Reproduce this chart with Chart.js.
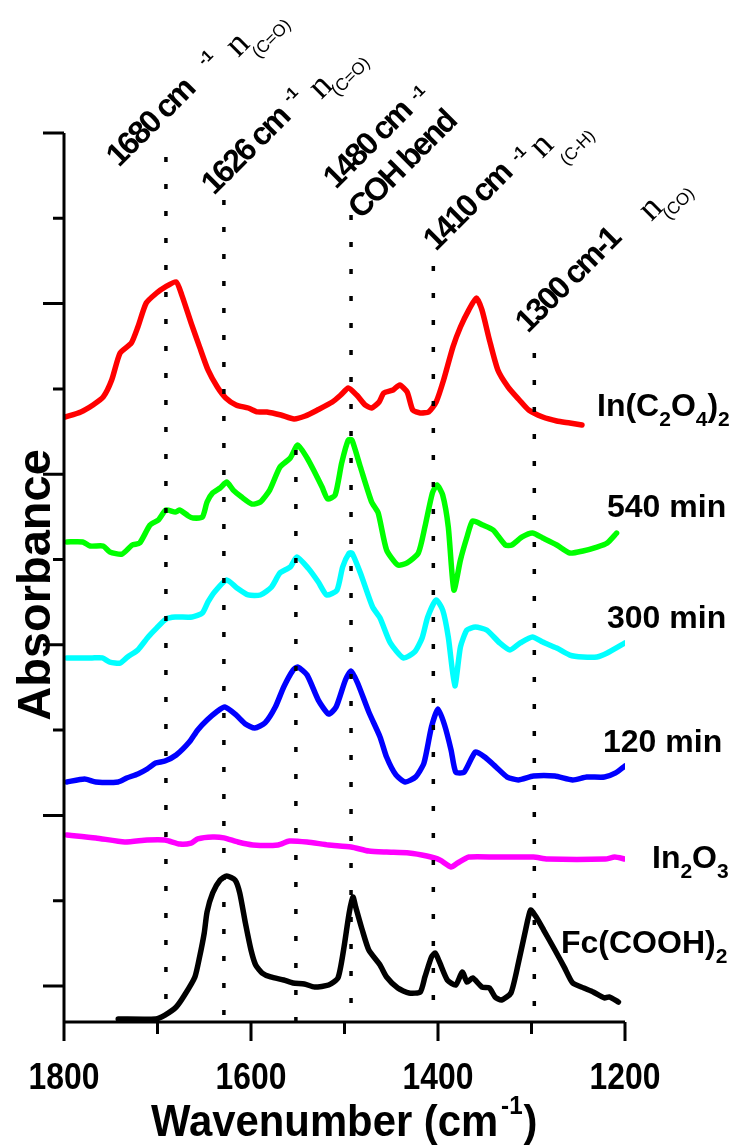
<!DOCTYPE html>
<html>
<head>
<meta charset="utf-8">
<script src="https://cdn.jsdelivr.net/npm/chart.js@4.4.0/dist/chart.umd.min.js"></script>
<style>
  html, body { margin: 0; padding: 0; background: #ffffff; }
  #wrap { width: 735px; height: 1145px; position: relative; }
</style>
</head>
<body>
<div id="wrap"><canvas id="ir" width="735" height="1145"></canvas></div>
<script>
// FTIR spectra, stacked with vertical offsets (absorbance, arbitrary units)
const redWn = [1799,1782,1769,1758,1749,1740,1728,1721,1712,1701,1692,1680,1674,1664,1655,1646,1636,1627,1616,1603,1593,1583,1568,1554,1542,1529,1513,1504,1496,1487,1478,1471,1463,1458,1448,1441,1433,1427,1419,1410,1402,1394,1384,1376,1367,1359,1353,1345,1336,1325,1313,1303,1288,1273,1259,1246];
const redAbs = [3.335,3.365,3.406,3.453,3.552,3.710,3.769,3.863,4.004,4.062,4.097,4.127,4.050,3.886,3.746,3.611,3.511,3.447,3.406,3.388,3.365,3.365,3.347,3.324,3.341,3.376,3.423,3.464,3.505,3.464,3.406,3.388,3.423,3.476,3.494,3.523,3.482,3.376,3.359,3.365,3.423,3.552,3.746,3.863,3.963,4.033,3.963,3.787,3.611,3.511,3.435,3.376,3.335,3.312,3.300,3.288];

const greenWn = [1797,1780,1772,1758,1751,1738,1727,1719,1708,1699,1691,1681,1676,1667,1662,1652,1647,1641,1633,1626,1619,1610,1599,1590,1580,1569,1558,1550,1540,1532,1524,1518,1510,1503,1496,1492,1483,1471,1464,1455,1443,1433,1421,1414,1406,1401,1395,1389,1383,1376,1369,1363,1352,1341,1328,1321,1310,1299,1288,1273,1259,1245,1230,1219,1209];
const greenAbs = [2.603,2.603,2.579,2.579,2.544,2.532,2.585,2.597,2.702,2.732,2.790,2.778,2.790,2.755,2.743,2.749,2.837,2.890,2.919,2.954,2.907,2.866,2.825,2.837,2.907,3.042,3.095,3.171,3.095,3.013,2.925,2.855,2.878,3.066,3.200,3.200,3.042,2.837,2.773,2.556,2.468,2.480,2.538,2.691,2.890,2.937,2.878,2.691,2.321,2.497,2.632,2.726,2.702,2.673,2.585,2.585,2.632,2.655,2.626,2.585,2.538,2.550,2.573,2.597,2.655];

const cyanWn = [1797,1783,1770,1759,1751,1740,1732,1721,1710,1701,1691,1681,1663,1652,1646,1639,1626,1615,1603,1590,1578,1569,1558,1551,1539,1528,1519,1508,1502,1495,1492,1483,1470,1462,1451,1437,1425,1417,1411,1402,1395,1389,1382,1376,1369,1360,1348,1334,1323,1312,1299,1288,1273,1259,1245,1230,1219,1200];
const cyanAbs = [1.923,1.923,1.923,1.923,1.899,1.893,1.929,1.970,2.046,2.098,2.151,2.163,2.163,2.186,2.251,2.310,2.380,2.333,2.292,2.292,2.339,2.421,2.456,2.515,2.450,2.368,2.292,2.321,2.456,2.538,2.538,2.421,2.222,2.157,2.011,1.923,1.958,2.040,2.163,2.263,2.204,2.046,1.759,1.987,2.087,2.104,2.087,2.011,1.970,2.011,2.046,2.016,1.981,1.940,1.929,1.929,1.952,2.011];

const blueWn = [1797,1778,1766,1742,1733,1721,1711,1702,1692,1680,1666,1657,1647,1637,1628,1616,1606,1596,1585,1574,1565,1555,1550,1540,1528,1517,1509,1499,1493,1486,1474,1462,1455,1445,1435,1424,1415,1407,1400,1393,1386,1381,1372,1360,1350,1338,1326,1314,1298,1275,1256,1241,1222,1210,1200];
const blueAbs = [1.196,1.213,1.196,1.196,1.219,1.243,1.272,1.307,1.319,1.354,1.430,1.501,1.559,1.606,1.635,1.589,1.536,1.512,1.542,1.635,1.753,1.852,1.870,1.823,1.676,1.594,1.635,1.794,1.846,1.776,1.606,1.460,1.342,1.237,1.196,1.225,1.307,1.518,1.624,1.530,1.383,1.254,1.254,1.372,1.342,1.284,1.225,1.208,1.231,1.231,1.208,1.225,1.225,1.249,1.290];

const magentaWn = [1797,1766,1735,1711,1692,1676,1664,1657,1641,1629,1614,1598,1571,1559,1540,1517,1493,1474,1455,1431,1412,1398,1386,1379,1367,1338,1298,1283,1221,1211,1200];
const magentaAbs = [0.885,0.868,0.844,0.856,0.856,0.832,0.838,0.862,0.873,0.868,0.844,0.827,0.827,0.850,0.844,0.827,0.815,0.791,0.785,0.780,0.762,0.739,0.698,0.721,0.756,0.756,0.756,0.744,0.744,0.756,0.744];

const blackWn = [1742,1702,1692,1680,1671,1660,1655,1650,1647,1641,1633,1626,1617,1612,1606,1600,1595,1588,1579,1565,1555,1543,1532,1517,1507,1501,1495,1491,1488,1481,1474,1462,1455,1443,1431,1419,1414,1407,1403,1398,1390,1381,1374,1369,1363,1353,1345,1339,1332,1322,1314,1307,1301,1295,1287,1275,1265,1256,1244,1234,1222,1217,1207];
const blackAbs = [-0.193,-0.193,-0.170,-0.123,-0.053,0.053,0.170,0.311,0.434,0.545,0.621,0.645,0.621,0.545,0.369,0.211,0.123,0.076,0.053,0.035,0.018,0.012,-0.006,0.006,0.047,0.211,0.428,0.522,0.463,0.328,0.211,0.123,0.053,-0.012,-0.041,-0.035,0.053,0.170,0.193,0.135,0.035,0.006,0.082,0.023,0.047,-0.006,-0.012,-0.064,-0.082,-0.041,0.135,0.311,0.445,0.404,0.328,0.211,0.111,0.018,-0.012,-0.035,-0.070,-0.064,-0.094];

// band markers: wavenumber and upper end of each dotted guide
const bandWn = [1691, 1629, 1552, 1493, 1405, 1297];
const bandTop = [4.859, 4.607, 3.142, 4.519, 4.220, 3.710];

// axis range and ticks
const wnMax = 1800, wnMin = 1200;
const absMin = -0.211, absMax = 5;
const xMajor = [1800, 1600, 1400, 1200];
const xMinor = [1700, 1500, 1300];
const yMajor = [0, 1, 2, 3, 4, 5];
const yMinor = [0.5, 1.5, 2.5, 3.5, 4.5];

const SANS = '"Liberation Sans", Arial, Helvetica, sans-serif';
const SERIF = '"Liberation Serif", "Times New Roman", serif';

function pts(wn, ab) { return wn.map((w, i) => ({ x: w, y: ab[i] })); }

const spectra = [
  { wn: redWn, ab: redAbs, color: '#ff0000' },
  { wn: greenWn, ab: greenAbs, color: '#00ff00' },
  { wn: cyanWn, ab: cyanAbs, color: '#00ffff' },
  { wn: blueWn, ab: blueAbs, color: '#0000ff' },
  { wn: magentaWn, ab: magentaAbs, color: '#ff00ff' },
  { wn: blackWn, ab: blackAbs, color: '#000000' }
];

const datasets = [];
bandWn.forEach((w, i) => {
  datasets.push({
    data: [{ x: w, y: bandTop[i] }, { x: w, y: absMin }],
    borderColor: '#000000', borderWidth: 3.5, borderDash: [5, 22],
    borderCapStyle: 'butt', tension: 0, order: 0
  });
});
spectra.forEach(s => {
  datasets.push({
    data: pts(s.wn, s.ab),
    borderColor: s.color, borderWidth: 5.5, tension: 0.2,
    borderJoinStyle: 'round', borderCapStyle: 'round', order: 1
  });
});

// draws a row of text pieces (sub/superscripts) starting at x,y; sx narrows the glyphs
function drawRuns(ctx, x, y, parts, angle, sx) {
  ctx.save();
  ctx.translate(x, y);
  ctx.rotate(angle || 0);
  ctx.scale(sx || 1, 1);
  ctx.textAlign = 'left';
  ctx.textBaseline = 'alphabetic';
  let cx = 0;
  for (const p of parts) {
    ctx.font = p.font;
    ctx.letterSpacing = (p.ls || 0) + 'px';
    cx += (p.dx || 0);
    ctx.fillText(p.t, cx, p.dy || 0);
    cx += ctx.measureText(p.t).width;
  }
  ctx.restore();
}

function drawCentered(ctx, t, x, y, font, angle) {
  ctx.save();
  ctx.translate(x, y);
  ctx.rotate(angle);
  ctx.font = font;
  ctx.letterSpacing = '0px';
  ctx.textAlign = 'center';
  ctx.textBaseline = 'middle';
  ctx.fillText(t, 0, 0);
  ctx.restore();
}

const B32 = `bold 32px ${SANS}`;
const S21 = `bold 21px ${SANS}`;
const seriesLabels = [
  { x: 597, y: 416, parts: [{ t: 'In(C', font: B32 }, { t: '2', font: S21, dy: 10 }, { t: 'O', font: B32 }, { t: '4', font: S21, dy: 10 }, { t: ')', font: B32 }, { t: '2', font: S21, dy: 10 }] },
  { x: 607, y: 517, parts: [{ t: '540 min', font: B32 }] },
  { x: 607, y: 628, parts: [{ t: '300 min', font: B32 }] },
  { x: 603, y: 752, parts: [{ t: '120 min', font: B32 }] },
  { x: 652, y: 868, parts: [{ t: 'In', font: B32 }, { t: '2', font: S21, dy: 10 }, { t: 'O', font: B32 }, { t: '3', font: S21, dy: 10 }] },
  { x: 561, y: 953, parts: [{ t: 'Fc(COOH)', font: B32 }, { t: '2', font: S21, dy: 10 }] }
];

const ANG = -Math.PI / 4;
const NOTE = `bold 32px ${SANS}`;
const SUP = `bold 16px ${SANS}`;
const NU = `36px ${SERIF}`;
const GRP = `17px ${SANS}`;
const bandNotes = [
  { main: '1680 cm', at: [119, 168], sup: [206, 58], nu: [238, 45], grp: '(C=O)', g: [272, 39] },
  { main: '1626 cm', at: [214, 196], sup: [291, 95], nu: [321, 87], grp: '(C=O)', g: [351, 77] },
  { main: '1480 cm', at: [336, 190], sup: [418, 93] },
  { main: 'COH bend', at: [361, 220] },
  { main: '1410 cm', at: [436, 252], sup: [519, 154], nu: [542, 146], grp: '(C-H)', g: [578, 148] },
  { main: '1300 cm-1', at: [528, 334], nu: [651, 209], grp: '(CO)', g: [679, 204] }
];

const frame = {
  id: 'frame',
  afterDatasetsDraw(chart) {
    const ctx = chart.ctx;
    const xs = chart.scales.x, ys = chart.scales.y;
    const left = xs.getPixelForValue(wnMax), right = xs.getPixelForValue(wnMin);
    const top = ys.getPixelForValue(absMax), bottom = ys.getPixelForValue(absMin);
    ctx.save();
    ctx.strokeStyle = '#000'; ctx.fillStyle = '#000';
    ctx.lineWidth = 3; ctx.lineCap = 'butt';
    ctx.beginPath();
    ctx.moveTo(left, top); ctx.lineTo(left, bottom + 19);
    ctx.moveTo(left, bottom); ctx.lineTo(right, bottom);
    yMajor.forEach(v => { const p = ys.getPixelForValue(v); ctx.moveTo(left - 21, p); ctx.lineTo(left, p); });
    yMinor.forEach(v => { const p = ys.getPixelForValue(v); ctx.moveTo(left - 11, p); ctx.lineTo(left, p); });
    xMajor.forEach(v => { const p = xs.getPixelForValue(v); ctx.moveTo(p, bottom); ctx.lineTo(p, bottom + 19); });
    xMinor.forEach(v => { const p = xs.getPixelForValue(v); ctx.moveTo(p, bottom); ctx.lineTo(p, bottom + 12); });
    ctx.stroke();

    // tick labels (narrow bold digits)
    xMajor.forEach(v => {
      ctx.save();
      ctx.translate(xs.getPixelForValue(v), 1089);
      ctx.scale(0.86, 1);
      ctx.font = `bold 37px ${SANS}`;
      ctx.textAlign = 'center'; ctx.textBaseline = 'alphabetic';
      ctx.fillText(String(v), 0, 0);
      ctx.restore();
    });

    // axis titles
    drawRuns(ctx, 151, 1136, [
      { t: 'Wavenumber (cm', font: `bold 45px ${SANS}` },
      { t: '-1', font: `bold 26px ${SANS}`, dx: 3, dy: -22 },
      { t: ')', font: `bold 45px ${SANS}`, dx: 1 }
    ], 0, 0.93);
    ctx.save();
    ctx.translate(50, 585); ctx.rotate(-Math.PI / 2);
    ctx.font = `bold 47px ${SANS}`; ctx.textAlign = 'center'; ctx.textBaseline = 'alphabetic';
    ctx.fillText('Absorbance', 0, 0);
    ctx.restore();

    // series names
    seriesLabels.forEach(l => drawRuns(ctx, l.x, l.y, l.parts, 0));

    // band assignments
    bandNotes.forEach(n => {
      drawRuns(ctx, n.at[0], n.at[1], [{ t: n.main, font: NOTE, ls: -2.5 }], ANG);
      if (n.sup) drawCentered(ctx, '-1', n.sup[0], n.sup[1], SUP, ANG);
      if (n.nu) drawCentered(ctx, 'n', n.nu[0], n.nu[1], NU, ANG);
      if (n.grp) drawCentered(ctx, n.grp, n.g[0], n.g[1], GRP, ANG);
    });
    ctx.restore();
  }
};

new Chart(document.getElementById('ir'), {
  type: 'line',
  data: { datasets },
  options: {
    responsive: false,
    animation: false,
    devicePixelRatio: 1,
    layout: { padding: { left: 64, right: 110, top: 133, bottom: 123 } },
    elements: { point: { radius: 0, hoverRadius: 0 } },
    plugins: { legend: { display: false }, tooltip: { enabled: false } },
    scales: {
      x: { type: 'linear', min: wnMin, max: wnMax, reverse: true, display: false },
      y: { type: 'linear', min: absMin, max: absMax, display: false }
    }
  },
  plugins: [frame]
});
</script>
</body>
</html>
